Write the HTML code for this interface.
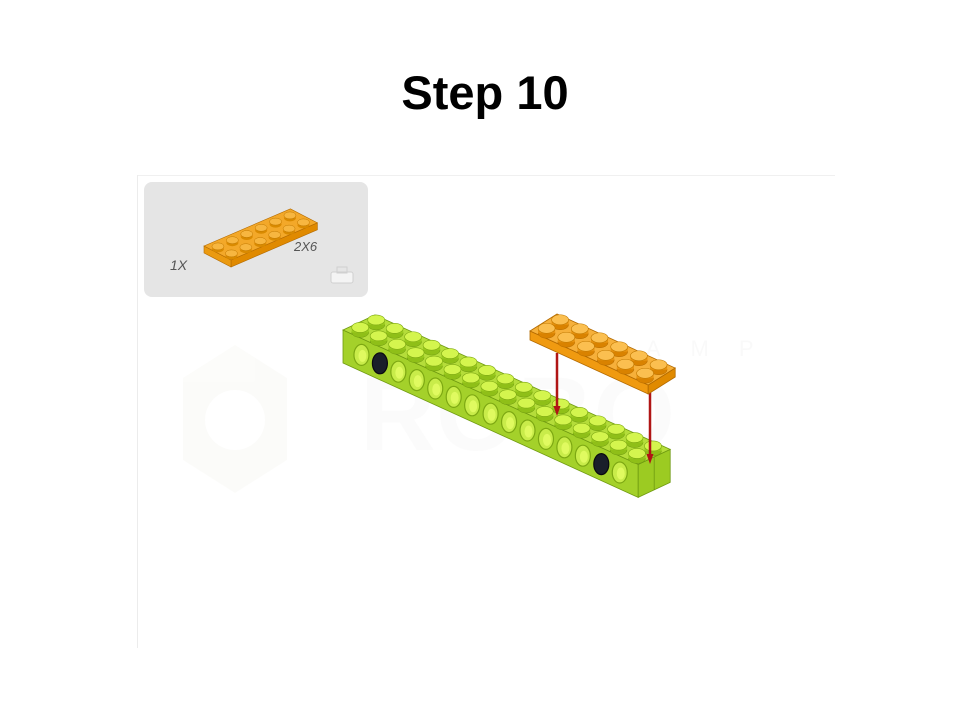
<!DOCTYPE html>
<html><head><meta charset="utf-8"><style>
html,body{margin:0;padding:0;background:#fff;width:970px;height:728px;overflow:hidden}
svg{display:block}
</style></head><body>
<svg id="s" width="970" height="728" viewBox="0 0 970 728" xmlns="http://www.w3.org/2000/svg">
<text x="485" y="109" text-anchor="middle" font-family="Liberation Sans, sans-serif" font-weight="bold" font-size="47" fill="#000">Step 10</text>
<line x1="137" y1="175.5" x2="835" y2="175.5" stroke="#f0f0f0" stroke-width="1"/>
<line x1="137.5" y1="175" x2="137.5" y2="648" stroke="#ececec" stroke-width="1"/>
<g opacity="0.4">
<polygon points="235,345 287,378 287,460 235,493 183,460 183,378" fill="#f7f7f2"/>
<circle cx="235" cy="420" r="30" fill="#fff"/>
<text x="360" y="450" font-family="Liberation Sans, sans-serif" font-weight="bold" font-size="105" fill="#f6f6f6">ROBO</text>
<text x="600" y="356" font-family="Liberation Sans, sans-serif" font-size="22" letter-spacing="30" fill="#f2f2f2">CAMP</text>
</g>
<rect x="144" y="182" width="224" height="115" rx="8" fill="#e5e5e5"/>
<text x="170" y="270" font-family="Liberation Sans, sans-serif" font-style="italic" font-size="14" fill="#555">1X</text>
<text x="294" y="251" font-family="Liberation Sans, sans-serif" font-style="italic" font-size="13" fill="#555">2X6</text>
<g><rect x="331" y="272" width="22" height="11" rx="2" fill="#f4f4f4" stroke="#d0d0d0"/><rect x="337" y="267" width="10" height="6" fill="none" stroke="#d0d0d0"/></g>
<g id="g"></g>
</svg>
<script>
var NS='http://www.w3.org/2000/svg';
var G=document.getElementById('g');
function el(t,a,p){var e=document.createElementNS(NS,t);for(var k in a)e.setAttribute(k,a[k]);(p||G).appendChild(e);return e;}
function pts(a){return a.map(function(p){return p[0].toFixed(1)+','+p[1].toFixed(1)}).join(' ');}
function add(p,q,s){return [p[0]+q[0]*s,p[1]+q[1]*s];}
// part icon plate
var pi=el('g',{});


(function(){var o=[204,246],u=[14.4,-6.2],v=[13.5,7],h=7;
var A=o,B=add(o,u,6),D=add(o,v,2),C=add(D,u,6);
el('polygon',{points:pts([D,C,[C[0],C[1]+h],[D[0],D[1]+h]]),fill:'#e08a00',stroke:'#b36a00','stroke-width':0.6},pi);
el('polygon',{points:pts([A,D,[D[0],D[1]+h],[A[0],A[1]+h]]),fill:'#eb9a10',stroke:'#b36a00','stroke-width':0.6},pi);
el('polygon',{points:pts([A,B,C,D]),fill:'#f3a829',stroke:'#b36a00','stroke-width':0.6},pi);
for(var i=0;i<6;i++)for(var j=0;j<2;j++){var c=add(add(o,u,i+0.5),v,j+0.5);
el('ellipse',{cx:c[0],cy:c[1]+2.5,rx:6,ry:3.5,fill:'#d98a00'},pi);
el('rect',{x:c[0]-6,y:c[1],width:12,height:2.5,fill:'#e89310'},pi);
el('ellipse',{cx:c[0],cy:c[1],rx:6,ry:3.5,fill:'#f7b640',stroke:'#c07800','stroke-width':0.5},pi);}
})();
// beam
var beam=el('g',{});


(function(){var o=[343,330],u=[18.45,8.4],v=[16,-7.5],h=33,n=16;
var A=o,B=add(o,u,n),C=add(B,v,2),D=add(o,v,2);
el('polygon',{points:pts([A,B,[B[0],B[1]+h],[A[0],A[1]+h]]),fill:'#a4d12a',stroke:'#6f9a10','stroke-width':0.8},beam);
el('polygon',{points:pts([B,C,[C[0],C[1]+h],[B[0],B[1]+h]]),fill:'#9ccb22',stroke:'#6f9a10','stroke-width':0.8},beam);
var m=add(B,v,1);el('line',{x1:m[0],y1:m[1],x2:m[0],y2:m[1]+h,stroke:'#6f9a10','stroke-width':0.8},beam);
el('polygon',{points:pts([A,B,C,D]),fill:'#b5dd3a',stroke:'#6f9a10','stroke-width':0.8},beam);
for(var i=0;i<n-1;i++){var c=add(A,u,i+1);c=[c[0],c[1]+h/2];
var dark=(i==1||i==13);
el('ellipse',{cx:c[0],cy:c[1],rx:7.5,ry:10.5,fill:dark?'#1a1f2a':'#c9ec4a',stroke:dark?'#0a0a10':'#7da812','stroke-width':1.2},beam);
if(!dark)el('ellipse',{cx:c[0]+1,cy:c[1]+1,rx:4,ry:6,fill:'#e0fa60'},beam);}
for(var j=1;j>=0;j--)for(var i=0;i<n;i++){var c=add(add(A,u,i+0.5),v,j+0.5);c=[c[0],c[1]-3];
el('ellipse',{cx:c[0],cy:c[1]+5,rx:8.5,ry:5,fill:'#8fbf18',stroke:'#6f9a10','stroke-width':0.5},beam);
el('rect',{x:c[0]-8.5,y:c[1],width:17,height:5,fill:'#9acb1e'},beam);
el('ellipse',{cx:c[0],cy:c[1],rx:8.5,ry:5,fill:'#d4f54e',stroke:'#7da812','stroke-width':0.6},beam);}
})();
// arrows
var arrowX=[557,650],arrowY1=[353,390],arrowY2=[416,464];
for(var k=0;k<2;k++){var a=el('g',{});


el('line',{x1:arrowX[k],y1:arrowY1[k],x2:arrowX[k],y2:arrowY2[k]-8,stroke:'#b01515','stroke-width':2.5},a);
el('polygon',{points:pts([[arrowX[k]-3.5,arrowY2[k]-10],[arrowX[k]+3.5,arrowY2[k]-10],[arrowX[k],arrowY2[k]]]),fill:'#b01515'},a);}
// orange plate
var pl=el('g',{});


(function(){var o=[530,331],u=[19.7,9],v=[13.5,-8.5],h=9;
var A=o,B=add(o,u,6),C=add(B,v,2),D=add(o,v,2);
el('polygon',{points:pts([A,B,[B[0],B[1]+h],[A[0],A[1]+h]]),fill:'#f09a10',stroke:'#b36a00','stroke-width':0.8},pl);
el('polygon',{points:pts([B,C,[C[0],C[1]+h],[B[0],B[1]+h]]),fill:'#e08a00',stroke:'#b36a00','stroke-width':0.8},pl);
el('polygon',{points:pts([A,B,C,D]),fill:'#f6b03a',stroke:'#b36a00','stroke-width':0.8},pl);
for(var j=1;j>=0;j--)for(var i=0;i<6;i++){var c=add(add(A,u,i+0.5),v,j+0.5);c=[c[0],c[1]-3];
el('ellipse',{cx:c[0],cy:c[1]+5,rx:8.5,ry:5,fill:'#d98200',stroke:'#b36a00','stroke-width':0.5},pl);
el('rect',{x:c[0]-8.5,y:c[1],width:17,height:5,fill:'#e89310'},pl);
el('ellipse',{cx:c[0],cy:c[1],rx:8.5,ry:5,fill:'#fbbf50',stroke:'#c07800','stroke-width':0.6},pl);}
})();
</script>
</body></html>
